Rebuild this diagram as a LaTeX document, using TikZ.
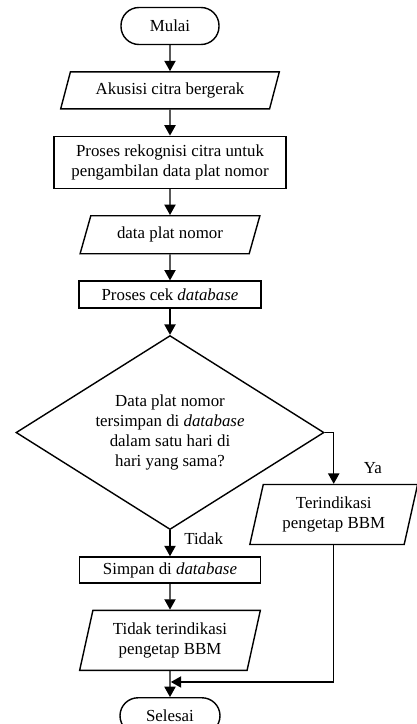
\documentclass[tikz,border=0pt]{standalone}
\usepackage{fontspec}
\setmainfont{Liberation Serif}
\usetikzlibrary{shapes.geometric, arrows.meta, positioning, calc}
\tikzset{
  term/.style={rectangle, rounded corners=0.45cm, draw, line width=1pt,
               minimum height=0.925cm, minimum width=2.45cm, align=center},
  io/.style={trapezium, trapezium left angle=73, trapezium right angle=107,
             trapezium stretches=true, draw, line width=1pt, align=center, inner xsep=2pt},
  proc/.style={rectangle, draw, line width=1pt, align=center},
  decide/.style={diamond, aspect=1.59, draw, line width=1pt, align=center, inner sep=1pt},
  flow/.style={-{Triangle[length=2.6mm, width=2.8mm]}, line width=1pt},
  lbl/.style={inner sep=0pt}
}

\begin{document}
\begin{tikzpicture}[node distance=0.65cm, every node/.style={font=\fontsize{12}{14.2}\selectfont}]
  \useasboundingbox (0,0) rectangle (10.425,-18.1);

  \node[term] (mulai) at (4.25,-0.65) {Mulai};
  \node[io, below=of mulai, minimum width=5.475cm, minimum height=0.925cm] (akusisi) {Akusisi citra bergerak};
  \node[proc, below=of akusisi, minimum width=5.8cm, minimum height=1.3cm] (rekog) {Proses rekognisi citra untuk\\pengambilan data plat nomor};
  \node[io, below=of rekog, minimum width=4.5cm, minimum height=0.95cm] (plat) {data plat nomor};
  \node[proc, below=of plat, minimum width=4.55cm, minimum height=0.675cm] (cek) {Proses cek \textit{database}};
  \node[decide, below=of cek, minimum width=7.7cm, minimum height=4.85cm] (dec) {Data plat nomor\\tersimpan di \textit{database}\\dalam satu hari di\\hari yang sama?};
  \node[proc, below=of dec, minimum width=4.525cm, minimum height=0.65cm] (simpan) {Simpan di \textit{database}};
  \node[io, below=of simpan, trapezium left angle=77, trapezium right angle=103,
        minimum width=4.525cm, minimum height=1.5cm] (tidakind) {Tidak terindikasi\\pengetap BBM};
  \node[term, below=of tidakind, minimum width=2.5cm, minimum height=0.9cm] (selesai) {Selesai};
  \node[io, trapezium left angle=77, trapezium right angle=103, minimum width=4.2cm,
        minimum height=1.5cm] (ind) at ($(dec.east)+(0.225,-2.05)$) {Terindikasi\\pengetap BBM};

  \node[lbl, above right=0.25cm and 0.75cm of ind.north] (ya) {Ya};
  \node[lbl, below right=0.05cm and 0.35cm of dec.south] (tidak) {Tidak};
  \coordinate (merge) at ($($(tidakind.south)!0.42!(selesai.north)$)+(0.02,0)$);

  \draw[flow] (mulai) -- (akusisi);
  \draw[flow] (akusisi) -- (rekog);
  \draw[flow] (rekog) -- (plat);
  \draw[flow] (plat) -- (cek);
  \draw[flow] (cek) -- (dec);
  \draw[flow] (dec) -- (simpan);
  \draw[flow] (simpan) -- (tidakind);
  \draw[flow] (tidakind) -- (selesai);
  \draw[flow] (dec.east) -| (ind.north);
  \draw[flow] (ind.south) |- (merge);
\end{tikzpicture}
\end{document}
